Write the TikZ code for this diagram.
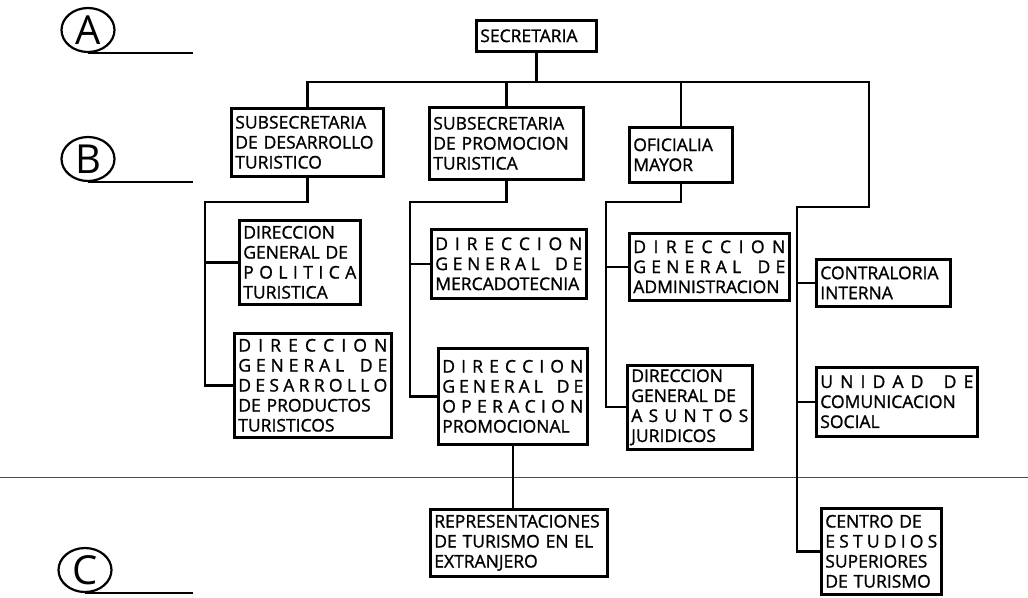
\documentclass[tikz,border=0pt]{standalone}
\usepackage{fontspec}
\setmainfont{Open Sans}
\usepackage{tikz}
\usetikzlibrary{shapes.geometric}
\usetikzlibrary{calc}
\newcommand{\boxfont}{\fontsize{17.5}{20}\selectfont\addfontfeature{FakeBold=1.2}}
\newcommand{\levelfont}{\fontsize{40}{40}\selectfont}
\tikzset{unit/.style={draw,
                      line width=2.6pt,
                      anchor=north west,
                      inner sep=4pt,
                      align=left,
                      font=\boxfont}}
\tikzset{edge/.style={draw,
                      line width=2.4pt}}
\tikzset{level/.style={draw,
                       ellipse,
                       line width=2.2pt,
                       minimum width=53pt,
                       minimum height=44pt,
                       inner sep=0pt,
                       font=\levelfont}}
\makeatletter
\newcommand{\spread}[1]{\makebox[\linewidth][s]{\@tfor\sp@tok:=#1\do{\sp@tok\hfill}\unskip}}
\makeatother
\newcommand{\justline}[1]{\makebox[\linewidth][s]{#1}}
\hyphenpenalty=10000

\begin{document}
\begin{tikzpicture}[x=1pt,y=-1pt]

      \useasboundingbox (0,0) rectangle (1028,597);

      % levels
      \node [level] (la) at (88,30)  {A};
      \node [level] (lb) at (88,159) {B};
      \node [level] (lc) at (85,570) {C};
      \draw [edge] (la.south) -- ++(105,0);
      \draw [edge] (lb.south) -- ++(105,0);
      \draw [edge] (lc.south) -- ++(108,0);

      \draw [gray!60!black,line width=0.8pt] (0,477) -- (1028,477);

      % units
      \node [unit,text width=112pt,minimum height=31pt] (sec) at (475,19) {SECRETARIA};

      \node [unit,text width=144pt,minimum height=68pt] (sdt) at (230,107) {SUBSECRETARIA\\\mbox{DE DESARROLLO}\\TURISTICO};
      \node [unit,text width=146pt,minimum height=72pt] (spt) at (428,106) {SUBSECRETARIA\\\mbox{DE PROMOCION}\\TURISTICA};
      \node [unit,text width=95pt,minimum height=55pt]  (ofm) at (628,126) {OFICIALIA\\MAYOR};

      \node [unit,text width=113pt,minimum height=84pt]  (dgp) at (238,219) {DIRECCION\\\mbox{GENERAL DE}\\\spread{POLITICA}\\TURISTICA};
      \node [unit,text width=149pt,minimum height=104pt] (dgd) at (233,332) {\spread{DIRECCION}\\\spread{GENERAL\ DE}\\\spread{DESARROLLO}\\\justline{DE PRODUCTOS}\\TURISTICOS};

      \node [unit,text width=147pt,minimum height=69pt] (dgm) at (430,228) {\spread{DIRECCION}\\\spread{GENERAL\ DE}\\MERCADOTECNIA};
      \node [unit,text width=141pt,minimum height=96pt] (dgo) at (437,347) {\spread{DIRECCION}\\\spread{GENERAL\ DE}\\\spread{OPERACION}\\PROMOCIONAL};
      \node [unit,text width=169pt,minimum height=67pt] (rte) at (429,508) {REPRESENTACIONES\\\justline{DE TURISMO EN EL}\\EXTRANJERO};

      \node [unit,text width=152pt,minimum height=67pt] (dga) at (628,232) {\spread{DIRECCION}\\\spread{GENERAL\ DE}\\ADMINISTRACION};
      \node [unit,text width=117pt,minimum height=75pt] (dgj) at (626,364) {DIRECCION\\\mbox{GENERAL DE}\\\spread{ASUNTOS}\\JURIDICOS};

      \node [unit,text width=126pt,minimum height=47pt] (cin) at (815,258) {CONTRALORIA\\INTERNA};
      \node [unit,text width=153pt,minimum height=69pt] (ucs) at (815,366) {\spread{UNIDAD\ DE}\\COMUNICACION\\SOCIAL};
      \node [unit,text width=112pt,minimum height=86pt] (ces) at (820,507) {\justline{CENTRO DE}\\\spread{ESTUDIOS}\\SUPERIORES\\\mbox{DE TURISMO}};

      % bus and spines
      \coordinate (bus) at (0,82);
      \coordinate (rgt) at (869,207);
      \coordinate (rsp) at (797,0);
      \coordinate (sp1) at (205,202);
      \coordinate (sp2) at (410,202);
      \coordinate (sp3) at (606,202);

      % edges
      \path [edge] (sec.south) -- (sec.south |- bus);
      \path [edge] (sdt.north) |- (rgt |- bus) -- (rgt) -| (rsp |- ces.west) -- (ces.west);
      \path [edge] (spt.north) -- (spt.north |- bus);
      \path [edge] (ofm.north) -- (ofm.north |- bus);
      \path [edge] (rsp |- cin.west) -- (cin.west);
      \path [edge] (rsp |- ucs.west) -- (ucs.west);

      \path [edge] (sdt.south) |- (sp1) |- (dgd.west);
      \path [edge] (sp1 |- dgp.west) -- (dgp.west);

      \path [edge] (spt.south) |- (sp2) |- (dgo.west);
      \path [edge] (sp2 |- dgm.west) -- (dgm.west);
      \path [edge] (dgo.south) -- (dgo.south |- rte.north);

      \path [edge] (ofm.south) |- (sp3) |- (dgj.west);
      \path [edge] (sp3 |- dga.west) -- (dga.west);

\end{tikzpicture}
\end{document}
